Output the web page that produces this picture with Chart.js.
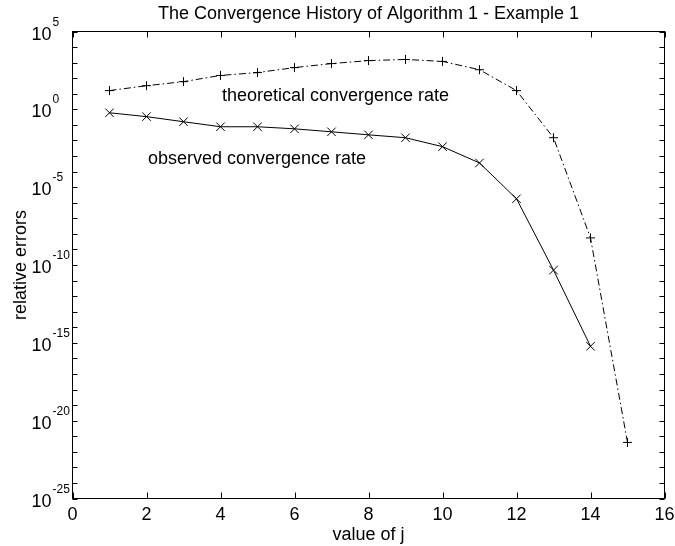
<!DOCTYPE html>
<html>
<head>
<meta charset="utf-8">
<script src="https://cdn.jsdelivr.net/npm/chart.js@4.4.1/dist/chart.umd.min.js"></script>
<style>
  html, body { margin: 0; padding: 0; background: #fff; }
  canvas { display: block; }
</style>
</head>
<body>
<canvas id="chart" width="675" height="546"></canvas>
<script>
// values
const jValues = [1, 2, 3, 4, 5, 6, 7, 8, 9, 10, 11, 12, 13, 14, 15];
const theoretical = [1.6e1, 3.3e1, 6.0e1, 1.5e2, 2.3e2, 4.8e2, 8.7e2, 1.35e3, 1.6e3, 1.2e3, 3.5e2, 1.6e1, 1.5e-2, 5.5e-9, 4e-22];
const observed = [6.0e-1, 3.4e-1, 1.6e-1, 7.6e-2, 7.6e-2, 5.6e-2, 3.6e-2, 2.3e-2, 1.5e-2, 4.0e-3, 3.6e-4, 1.8e-6, 4.7e-11, 6.0e-16];

const xTicks = [0, 2, 4, 6, 8, 10, 12, 14, 16];
const yTickExponents = [5, 0, -5, -10, -15, -20, -25];

const FONT = '"Liberation Sans", Arial, Helvetica, sans-serif';

function points(xs, ys) {
  return ys.map((y, i) => ({ x: xs[i], y }));
}

// draws the boxed axes, inward ticks and all text (MATLAB look)
const matlabFrame = {
  id: "matlabFrame",
  afterDraw(chart) {
    const { ctx, chartArea: a } = chart;
    const xs = chart.scales.x;
    const ys = chart.scales.y;
    ctx.save();
    ctx.strokeStyle = "#000";
    ctx.lineWidth = 1;
    ctx.strokeRect(a.left, a.top, a.right - a.left, a.bottom - a.top);

    ctx.beginPath();
    for (let e = -25; e <= 5; e++) {
      const py = Math.round(ys.getPixelForValue(Math.pow(10, e))) + 0.5;
      ctx.moveTo(a.left, py); ctx.lineTo(a.left + 5, py);
      ctx.moveTo(a.right, py); ctx.lineTo(a.right - 5, py);
    }
    xTicks.forEach(v => {
      const px = Math.round(xs.getPixelForValue(v)) + 0.5;
      ctx.moveTo(px, a.bottom); ctx.lineTo(px, a.bottom - 6);
      ctx.moveTo(px, a.top); ctx.lineTo(px, a.top + 6);
    });
    ctx.stroke();

    ctx.fillStyle = "#000";
    // x tick labels
    ctx.font = "18px " + FONT;
    ctx.textAlign = "center";
    ctx.textBaseline = "alphabetic";
    xTicks.forEach(v => ctx.fillText(String(v), xs.getPixelForValue(v), a.bottom + 21));

    // y tick labels 10^e
    yTickExponents.forEach(e => {
      const py = ys.getPixelForValue(Math.pow(10, e));
      ctx.font = "18px " + FONT;
      ctx.textAlign = "right";
      ctx.fillText("10", a.left - 21, py + 8);
      ctx.font = "12px " + FONT;
      ctx.textAlign = "left";
      ctx.fillText(String(e), a.left - 20, py - 6);
    });

    // titles
    ctx.font = "18px " + FONT;
    ctx.textAlign = "center";
    ctx.fillText("The Convergence History of Algorithm 1 - Example 1", (a.left + a.right) / 2, 19);
    ctx.fillText("value of j", (a.left + a.right) / 2, 540);
    ctx.save();
    ctx.translate(26, (a.top + a.bottom) / 2);
    ctx.rotate(-Math.PI / 2);
    ctx.fillText("relative errors", 0, 0);
    ctx.restore();

    // curve annotations
    ctx.textAlign = "left";
    ctx.fillText("theoretical convergence rate", xs.getPixelForValue(4.04), ys.getPixelForValue(Math.pow(10, 0.94)) + 6);
    ctx.fillText("observed convergence rate", xs.getPixelForValue(2.04), ys.getPixelForValue(Math.pow(10, -3.11)) + 6);
    ctx.restore();
  }
};

const chart = new Chart(document.getElementById("chart"), {
  type: "line",
  data: {
    datasets: [
      {
        label: "theoretical convergence rate",
        data: points(jValues, theoretical),
        borderColor: "#000",
        borderWidth: 1,
        borderDash: [7, 3, 1.5, 3],
        pointStyle: "cross",
        pointRadius: 4.5,
        pointBorderColor: "#000",
        pointBorderWidth: 1,
        fill: false,
        tension: 0
      },
      {
        label: "observed convergence rate",
        data: points(jValues, observed),
        borderColor: "#000",
        borderWidth: 1,
        pointStyle: "crossRot",
        pointRadius: 6,
        pointBorderColor: "#000",
        pointBorderWidth: 1,
        fill: false,
        tension: 0
      }
    ]
  },
  options: {
    responsive: false,
    animation: false,
    layout: { padding: { left: 72.5, right: 10.5, top: 31.5, bottom: 47.5 } },
    plugins: {
      legend: { display: false },
      tooltip: { enabled: false },
      title: { display: false }
    },
    scales: {
      x: { type: "linear", min: 0, max: 16, display: false },
      y: { type: "logarithmic", min: 1e-25, max: 1e5, display: false }
    }
  },
  plugins: [matlabFrame]
});
</script>
</body>
</html>
